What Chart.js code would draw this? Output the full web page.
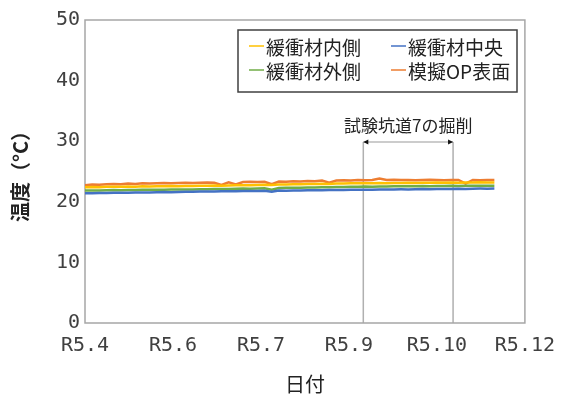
<!DOCTYPE html>
<html>
<head>
<meta charset="utf-8">
<script src="https://cdn.jsdelivr.net/npm/chart.js@4/dist/chart.umd.min.js"></script>
<style>
html,body{margin:0;padding:0;background:#fff}
#wrap{width:566px;height:396px}
</style>
</head>
<body>
<div id="wrap"><canvas id="c" width="566" height="396"></canvas></div>
<script>
// Days since the start of measurement (sampled every 4 days)
const days = [
  0,4,8,12,16,20,24,28,32,36,
  40,44,48,52,56,60,64,68,72,76,
  80,84,88,92,96,100,104,108,112,116,
  120,124,128,132,136,140,144,148,152,156,
  160,164,168,172,176,180,184,188,192,196,
  200,204,208,212,216,220,224,228
];

// Temperature (°C)
const innerSide = [ // 緩衝材内側
  22.40,22.45,22.42,22.48,22.50,22.47,22.52,22.50,22.55,22.53,
  22.58,22.56,22.60,22.58,22.62,22.60,22.65,22.63,22.67,22.65,
  22.70,22.72,22.75,22.73,22.78,22.80,22.78,22.85,22.87,22.90,
  22.88,22.93,22.95,22.97,22.95,23.00,23.03,23.05,23.05,23.08,
  23.05,23.10,23.08,23.12,23.10,23.13,23.12,23.15,23.13,23.17,
  23.15,23.18,23.16,23.20,23.18,23.22,23.20,23.20
];
const center = [ // 緩衝材中央
  21.40,21.42,21.45,21.44,21.48,21.50,21.49,21.53,21.55,21.54,
  21.58,21.60,21.59,21.63,21.65,21.64,21.68,21.70,21.72,21.73,
  21.75,21.74,21.78,21.80,21.79,21.82,21.65,21.85,21.84,21.87,
  21.88,21.90,21.89,21.92,21.93,21.95,21.94,21.97,21.98,22.00,
  21.99,22.03,22.02,22.05,22.06,22.05,22.08,22.10,22.09,22.12,
  22.13,22.12,22.15,22.10,22.17,22.18,22.17,22.20
];
const outerSide = [ // 緩衝材外側
  21.85,21.88,21.87,21.90,21.93,21.92,21.95,21.94,21.98,21.97,
  22.00,22.00,22.03,22.02,22.05,22.04,22.08,22.07,22.10,22.10,
  22.13,22.15,22.18,22.17,22.20,22.22,22.00,22.27,22.30,22.32,
  22.31,22.35,22.37,22.40,22.39,22.43,22.46,22.50,22.50,22.52,
  22.50,22.54,22.53,22.56,22.55,22.58,22.57,22.60,22.58,22.62,
  22.60,22.63,22.60,22.65,22.63,22.65,22.64,22.65
];
const opSurface = [ // 模擬OP表面
  22.75,22.85,22.80,22.90,22.95,22.90,23.00,22.95,23.05,23.00,
  23.05,23.10,23.05,23.10,23.15,23.10,23.15,23.20,23.15,22.80,
  23.20,22.85,23.25,23.30,23.25,23.30,22.90,23.35,23.30,23.40,
  23.35,23.45,23.40,23.50,23.15,23.50,23.55,23.50,23.60,23.55,
  23.60,23.85,23.60,23.65,23.60,23.60,23.55,23.60,23.65,23.60,
  23.55,23.60,23.60,23.00,23.60,23.55,23.60,23.60
];

const seriesNames = ['緩衝材内側','緩衝材中央','緩衝材外側','模擬OP表面'];
const seriesColors = ['#FFC000','#4472C4','#70AD47','#ED7D31'];
const seriesValues = [innerSide, center, outerSide, opSurface];

// X axis: one tick every 49 days
const tickLabels = ['R5.4','R5.6','R5.7','R5.9','R5.10','R5.12'];
const tickStep = 49;

// Excavation period of test tunnel 7 (days)
const excavation = [155, 205];
const excavationLabel = '試験坑道7の掘削';

const jpFont = '"Noto Sans CJK JP","Noto Sans",sans-serif';
const numFont = '"DejaVu Sans Mono",monospace';

const datasets = seriesValues.map((vals, i) => ({
  label: seriesNames[i],
  data: days.map((d, k) => ({x: d, y: vals[k]})),
  borderColor: seriesColors[i],
  backgroundColor: seriesColors[i],
  borderWidth: 2.5,
  pointRadius: 0,
  tension: 0,
  fill: false
}));

// Plot frame, excavation marker and legend box
const decor = {
  id: 'decor',
  beforeDatasetsDraw(chart) {
    const {ctx, chartArea: a, scales: {x}} = chart;
    ctx.save();
    // excavation period lines
    const yTop = 142;
    const x1 = x.getPixelForValue(excavation[0]);
    const x2 = x.getPixelForValue(excavation[1]);
    ctx.strokeStyle = '#b0b0b0';
    ctx.lineWidth = 1.5;
    ctx.beginPath();
    ctx.moveTo(x1, yTop); ctx.lineTo(x1, a.bottom);
    ctx.moveTo(x2, yTop); ctx.lineTo(x2, a.bottom);
    ctx.stroke();
    ctx.strokeStyle = '#999';
    ctx.lineWidth = 1;
    ctx.beginPath();
    ctx.moveTo(x1, yTop); ctx.lineTo(x2, yTop);
    ctx.stroke();
    ctx.fillStyle = '#111';
    [[x1, 1], [x2, -1]].forEach(([px, dir]) => {
      ctx.beginPath();
      ctx.moveTo(px, yTop);
      ctx.lineTo(px + 5 * dir, yTop - 2.5);
      ctx.lineTo(px + 5 * dir, yTop + 2.5);
      ctx.closePath();
      ctx.fill();
    });
    ctx.font = '17px ' + jpFont;
    ctx.fillStyle = '#222';
    ctx.textAlign = 'center';
    ctx.textBaseline = 'middle';
    ctx.fillText(excavationLabel, (x1 + x2) / 2, 126);
    // plot frame
    ctx.strokeStyle = '#a6a6a6';
    ctx.lineWidth = 1.5;
    ctx.strokeRect(a.left, a.top, a.right - a.left, a.bottom - a.top);
    ctx.restore();
  },
  afterDatasetsDraw(chart) {
    const {ctx} = chart;
    ctx.save();
    const bx = 238, by = 30, bw = 279, bh = 62;
    ctx.fillStyle = '#fff';
    ctx.fillRect(bx, by, bw, bh);
    ctx.strokeStyle = '#404040';
    ctx.lineWidth = 1.5;
    ctx.strokeRect(bx, by, bw, bh);
    const cols = [249, 391];
    const rows = [48, 72];
    ctx.font = '19px ' + jpFont;
    ctx.textBaseline = 'middle';
    ctx.textAlign = 'left';
    chart.data.datasets.forEach((ds, i) => {
      const cx = cols[i % 2], cy = rows[Math.floor(i / 2)];
      ctx.strokeStyle = ds.borderColor;
      ctx.lineWidth = 1.5;
      ctx.beginPath();
      ctx.moveTo(cx, cy - 2); ctx.lineTo(cx + 15, cy - 2);
      ctx.stroke();
      ctx.fillStyle = '#222';
      ctx.fillText(ds.label, cx + 17, cy);
    });
    ctx.restore();
  }
};

new Chart(document.getElementById('c'), {
  type: 'line',
  data: {datasets},
  plugins: [decor],
  options: {
    responsive: false,
    animation: false,
    devicePixelRatio: 1,
    layout: {padding: {left: 0, right: 39, top: 20, bottom: 0}},
    plugins: {legend: {display: false}, tooltip: {enabled: false}},
    scales: {
      x: {
        type: 'linear',
        min: 0,
        max: tickStep * (tickLabels.length - 1),
        afterBuildTicks(scale) {
          scale.ticks = tickLabels.map((_, i) => ({value: i * tickStep}));
        },
        afterFit(scale) { scale.height = 73; },
        ticks: {
          callback: (v) => tickLabels[Math.round(v / tickStep)],
          font: {family: numFont, size: 20},
          color: '#404040',
          padding: 11,
          maxRotation: 0,
          autoSkip: false
        },
        grid: {display: false, drawTicks: false},
        border: {display: false},
        title: {
          display: true,
          text: '日付',
          font: {family: jpFont, size: 20},
          color: '#222',
          padding: {top: 0, bottom: 0}
        }
      },
      y: {
        min: 0,
        max: 50,
        afterFit(scale) { scale.width = 85; },
        ticks: {
          stepSize: 10,
          font: {family: numFont, size: 20},
          color: '#404040',
          padding: 5
        },
        grid: {display: false, drawTicks: false},
        border: {display: false},
        title: {
          display: true,
          text: '温度（°C）',
          font: {family: jpFont, size: 20, weight: 'bold'},
          color: '#222',
          padding: {top: 8, bottom: 0}
        }
      }
    }
  }
});
</script>
</body>
</html>
